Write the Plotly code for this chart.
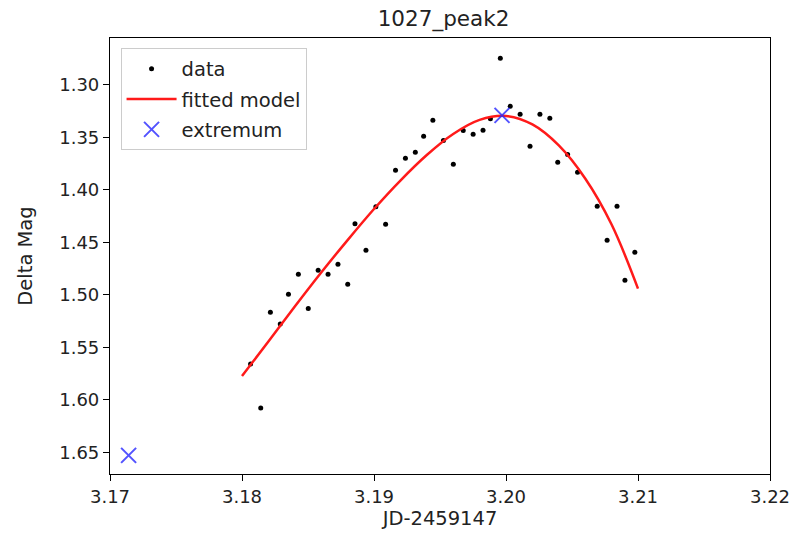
import plotly.graph_objects as go

# --- data ---
data_x = [3.18065, 3.18142, 3.18215, 3.18290, 3.18352, 3.18427, 3.18502, 3.18577,
          3.18652, 3.18727, 3.18801, 3.18856, 3.18939, 3.19014, 3.19088, 3.19163,
          3.19238, 3.19313, 3.19376, 3.19446, 3.19526, 3.19601, 3.19676, 3.19751,
          3.19826, 3.19882, 3.19957, 3.20032, 3.20107, 3.20182, 3.20257, 3.20332,
          3.20392, 3.20467, 3.20542, 3.20691, 3.20766, 3.20841, 3.20901, 3.20976]
data_y = [1.5658, 1.6077, 1.5166, 1.5277, 1.4995, 1.4804, 1.5131, 1.4766,
          1.4804, 1.4709, 1.4900, 1.4324, 1.4576, 1.4162, 1.4328, 1.3814,
          1.3699, 1.3642, 1.3490, 1.3337, 1.3531, 1.3756, 1.3435, 1.3471,
          1.3433, 1.3324, 1.2747, 1.3204, 1.3280, 1.3585, 1.3280, 1.3318,
          1.3737, 1.3664, 1.3833, 1.4157, 1.4480, 1.4157, 1.4862, 1.4595]

model_x = [3.180, 3.182, 3.184, 3.186, 3.188, 3.190, 3.192, 3.194,
           3.196, 3.198, 3.200, 3.202, 3.204, 3.206, 3.208, 3.210]
model_y = [1.5774, 1.5445, 1.5112, 1.4788, 1.4479, 1.4183, 1.3912, 1.3669,
           1.3469, 1.3335, 1.3297, 1.3378, 1.3578, 1.3893, 1.4331, 1.4941]

extremum_x = [3.19970, 3.17141]
extremum_y = [1.3292, 1.6529]

x_ticks = [3.17, 3.18, 3.19, 3.20, 3.21, 3.22]
y_ticks = [1.30, 1.35, 1.40, 1.45, 1.50, 1.55, 1.60, 1.65]

FONT = "DejaVu Sans"

fig = go.Figure()
fig.add_trace(go.Scatter(
    x=data_x, y=data_y, mode="markers", name="data", legendgroup="g1",
    marker=dict(color="black", size=5),
))
fig.add_trace(go.Scatter(
    x=model_x, y=model_y, mode="lines", name="fitted model", legendgroup="g2",
    line=dict(color="#ff1a1a", width=2.5, shape="spline", smoothing=1.0),
))
fig.add_trace(go.Scatter(
    x=extremum_x, y=extremum_y, mode="markers", name="extremum", legendgroup="g3",
    marker=dict(symbol="x-thin", size=15, color="rgba(40,40,255,0.8)",
                line=dict(color="rgba(40,40,255,0.8)", width=2)),
))

axis_common = dict(
    showgrid=False, zeroline=False, showline=True, linecolor="black",
    linewidth=1.2, mirror=True, ticks="outside", ticklen=6, tickwidth=1.2,
    tickcolor="black", tickfont=dict(family=FONT, size=18, color="#222222"),
)

fig.update_layout(
    width=802, height=540,
    margin=dict(l=110, r=25, t=38, b=66),
    paper_bgcolor="white", plot_bgcolor="white",
    font=dict(family=FONT, size=18, color="#222222"),
    title=dict(text="1027_peak2", x=0.553, xanchor="center", y=0.965,
               yanchor="middle", font=dict(family=FONT, size=21.5, color="#222222")),
    xaxis=dict(range=[3.17, 3.22], tickvals=x_ticks, tickformat=".2f",
               title=dict(text="JD-2459147", standoff=4,
                          font=dict(family=FONT, size=19.5, color="#222222")),
               **axis_common),
    yaxis=dict(range=[1.6706, 1.2555], tickvals=y_ticks, tickformat=".2f",
               title=dict(text="Delta Mag", standoff=21,
                          font=dict(family=FONT, size=19.5, color="#222222")),
               **axis_common),
    legend=dict(x=0.016, y=0.976, xanchor="left", yanchor="top",
                bordercolor="#cccccc", borderwidth=1, bgcolor="white",
                font=dict(family=FONT, size=19.5, color="#222222"),
                tracegroupgap=2, itemwidth=50),
    showlegend=True,
)

fig.write_html("out.html")
